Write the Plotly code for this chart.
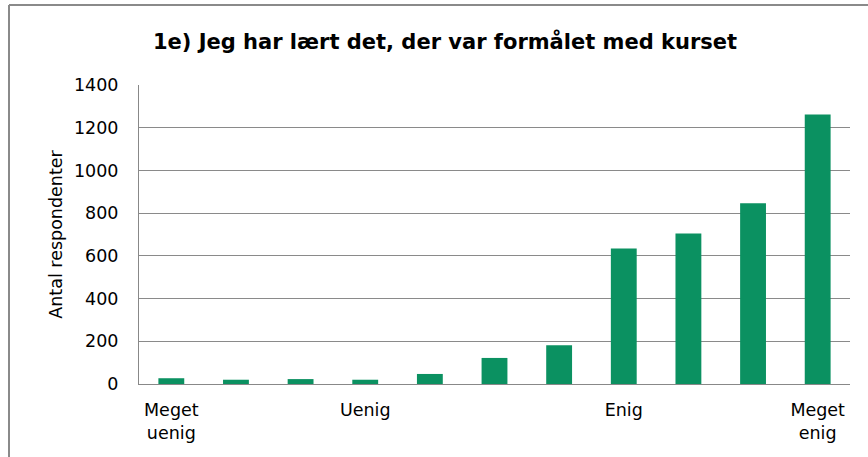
import plotly.graph_objects as go

categories = ["1", "2", "3", "4", "5", "6", "7", "8", "9", "10", "11"]
values = [27, 20, 23, 20, 47, 122, 182, 635, 705, 846, 1262]
tick_cats = ["1", "4", "8", "11"]
tick_labels = ["Meget<br>uenig", "Uenig", "Enig", "Meget<br>enig"]
title = "1e) Jeg har lært det, der var formålet med kurset"
y_title = "Antal respondenter"

W, H = 868, 457
L, R, T, B = 139, 18, 85, 73
pw, ph = W - L - R, H - T - B

fig = go.Figure(go.Bar(x=categories, y=values, marker=dict(color="#0B9161", line=dict(width=0)),
                       hoverinfo="x+y"))

font = "Verdana, DejaVu Sans, sans-serif"
fs = 17.5
fig.update_layout(
    width=W, height=H,
    margin=dict(l=L, r=R, t=T, b=B, autoexpand=False),
    paper_bgcolor="white", plot_bgcolor="white",
    bargap=0.6,
    showlegend=False,
    title=dict(text="<b>" + title + "</b>", x=445 / W, xref="container", xanchor="center",
               y=1 - 42 / H, yref="container", yanchor="middle",
               font=dict(family=font, size=21, color="black")),
    font=dict(family=font, size=fs, color="black"),
)
fig.update_xaxes(
    type="category", tickmode="array", tickvals=tick_cats, ticktext=tick_labels,
    showline=True, linecolor="#888888", linewidth=1, ticks="", showgrid=False,
    tickfont=dict(family=font, size=fs, color="black"), ticklabelstandoff=10, automargin=False,
)
fig.update_yaxes(
    range=[0, 1400], dtick=200, showgrid=True, gridcolor="#8a8a8a", gridwidth=1,
    showline=True, linecolor="#888888", linewidth=1, ticks="", zeroline=False,
    tickfont=dict(family=font, size=fs, color="black"), ticklabelstandoff=16, automargin=False,
    title=dict(text=y_title, font=dict(family=font, size=fs, color="black"), standoff=6),
)
# chart frame: top and left edges only visible in the reference
fx0, fy0 = 9, 5
fig.add_shape(type="line", xref="paper", yref="paper",
              x0=(fx0 - L) / pw, x1=(W + 2 - L) / pw,
              y0=(H - B - fy0) / ph, y1=(H - B - fy0) / ph,
              line=dict(color="#8a8a8a", width=2), layer="below")
fig.add_shape(type="line", xref="paper", yref="paper",
              x0=(fx0 - L) / pw, x1=(fx0 - L) / pw,
              y0=(H - B - fy0) / ph, y1=(H - B - H - 5) / ph,
              line=dict(color="#8a8a8a", width=2), layer="below")
fig.write_html("out.html", config={"displayModeBar": False},
               post_script="document.body.style.margin='0';document.body.style.overflow='hidden';")
